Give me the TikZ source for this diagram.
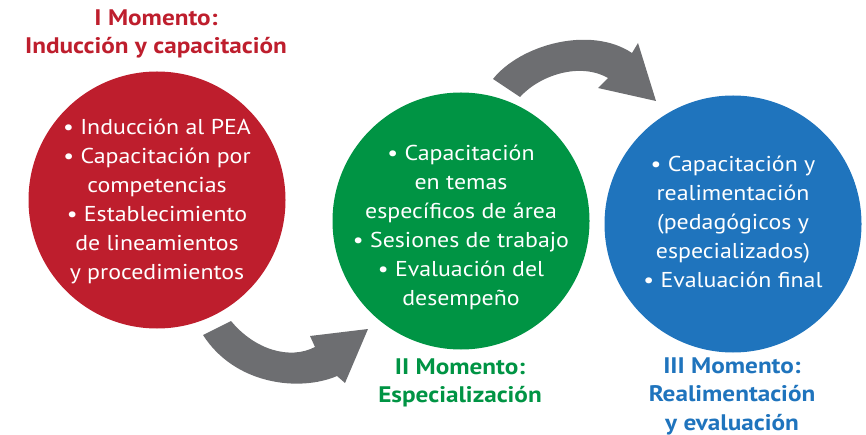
\documentclass[tikz,border=0pt]{standalone}
\usepackage{fontspec}
\setmainfont{PT Sans}
\newfontfamily\bodyfont{PT Sans}[FakeStretch=1.11]
\newfontfamily\titlefont{PT Sans}[BoldFeatures={FakeStretch=1.12}]
\definecolor{cred}{HTML}{BE1E2D}
\definecolor{cgreen}{HTML}{009444}
\definecolor{cblue}{HTML}{1F74BD}
\definecolor{cgray}{HTML}{6D6E71}
\begin{document}
\begin{tikzpicture}[x=1pt,y=-1pt,
  disc/.style={circle,inner sep=0pt,minimum size=257pt},
  body/.style={text=white,align=center,inner sep=0pt,font=\bodyfont\fontsize{21.5}{29}\selectfont},
  title/.style={align=center,inner sep=0pt,font=\titlefont\bfseries\fontsize{22.5}{28.5}\selectfont},
  blockarrow/.style={fill=cgray}]
\useasboundingbox (0,0) rectangle (866,435);
% circles
\node[disc,fill=cred] (c1) at (157,200) {};
\node[disc,fill=cgreen] (c2) at (461,221) {};
\node[disc,fill=cblue] (c3) at (733,224) {};
% texts
\node[body] (t1) at (157,201) {• Inducción al PEA\\• Capacitación por\\competencias\\• Establecimiento\\de lineamientos\\y procedimientos};
\node[body] (t2) at (461,227) {• Capacitación\\en temas\\específicos de área\\• Sesiones de trabajo\\• Evaluación del\\desempeño};
\node[body] (t3) at (733,222) {• Capacitación y\\realimentación\\(pedagógicos y\\especializados)\\• Evaluación final};
% titles
\node[title,text=cred] (h1) at (156,34) {I Momento:\\Inducción y capacitación};
\node[title,text=cgreen] (h2) at (460,383) {II Momento:\\Especialización};
\node[title,text=cblue] (h3) at (732,396) {III Momento:\\Realimentación\\y evaluación};
% block arrows
\fill[blockarrow] (203,335) -- (231,321)
  .. controls (255,350) and (290,360) .. (315,347)
  -- (310,336) -- (368,329) -- (345,383) -- (337,376)
  .. controls (300,392) and (235,385) .. (203,335) -- cycle;
\fill[blockarrow] (493,79)
  .. controls (520,45) and (590,25) .. (632,53)
  -- (638,43) -- (656,101) -- (598,88) -- (608,78)
  .. controls (580,62) and (540,75) .. (520,97) -- cycle;
\end{tikzpicture}
\end{document}
